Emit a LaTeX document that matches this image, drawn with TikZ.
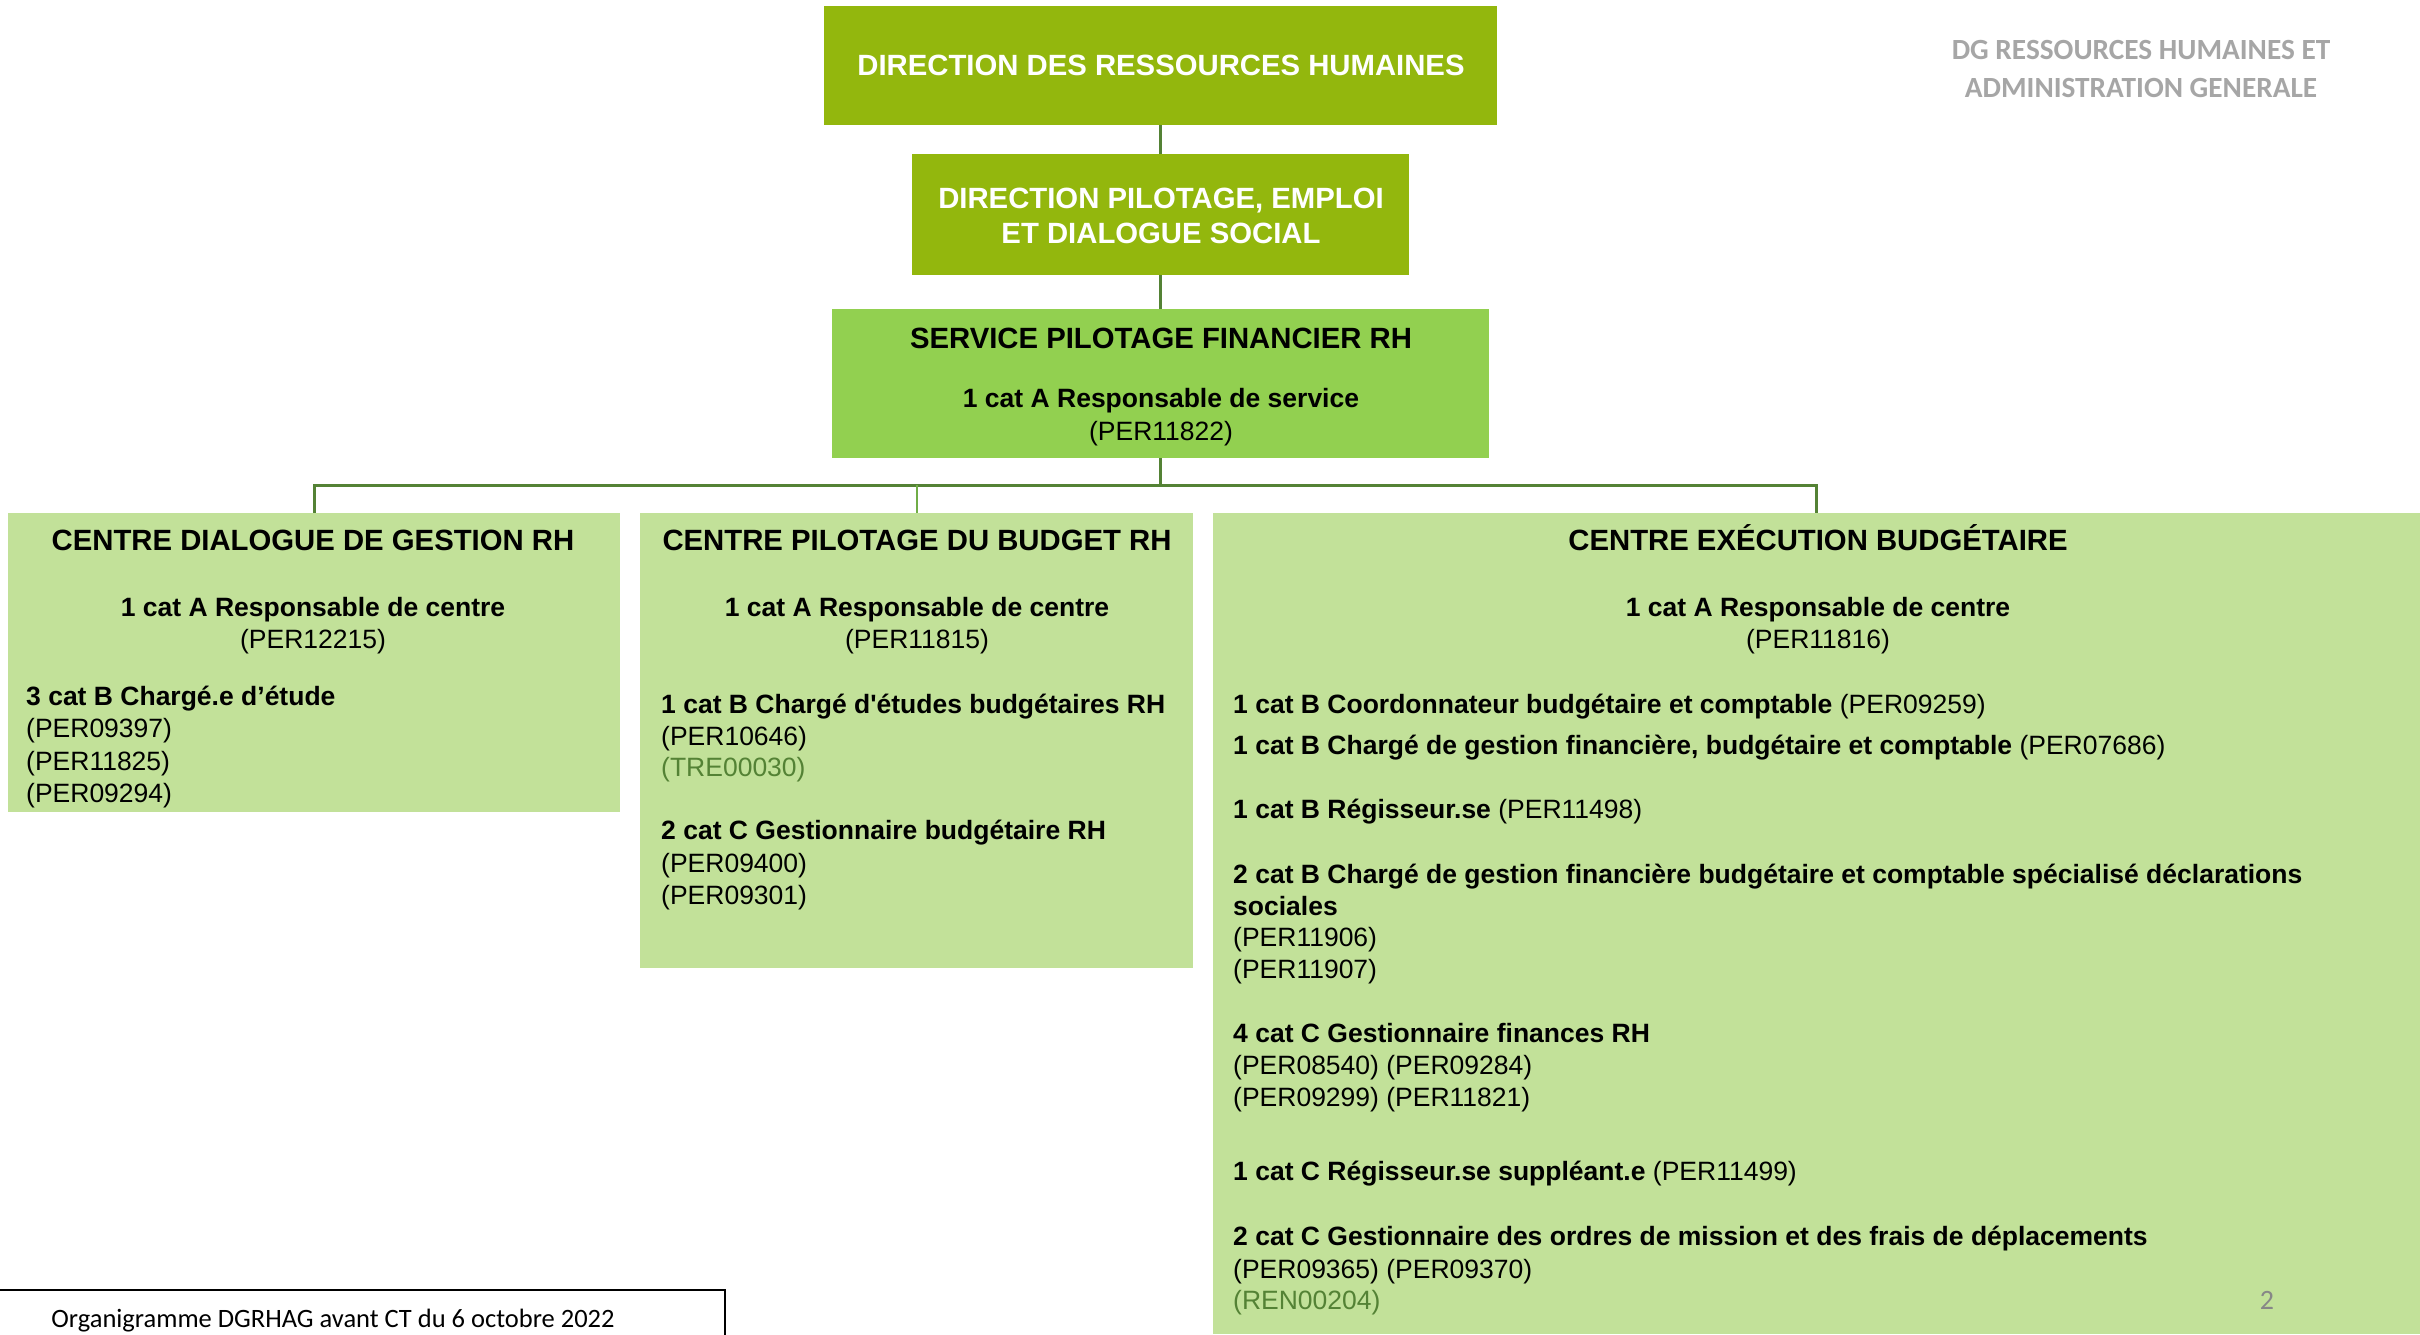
\documentclass[tikz,border=0pt]{standalone}
\usepackage{fontspec}
\setmainfont{Liberation Sans}[Ligatures=TeXOff]
\newfontfamily\calfont{Carlito}
\definecolor{dgreen}{RGB}{147,183,13}
\definecolor{lgreen}{RGB}{146,208,80}
\definecolor{pgreen}{RGB}{194,225,153}
\definecolor{lineg}{RGB}{84,130,53}
\definecolor{lineg2}{RGB}{112,173,71}
\definecolor{idg}{RGB}{84,130,53}
\definecolor{greyt}{RGB}{166,166,166}
\definecolor{greyn}{RGB}{135,135,135}
\begin{document}
\begin{tikzpicture}[x=1pt,y=1pt,
  boxs/.style={inner sep=0pt,outer sep=0pt,anchor=north west},
  hd/.style={inner sep=0pt,anchor=base,font=\fontsize{29.3}{35}\selectfont\bfseries},
  bc/.style={inner sep=0pt,anchor=base,font=\fontsize{26.5}{32}\selectfont},
  bl/.style={inner sep=0pt,anchor=base west,font=\fontsize{26.5}{32}\selectfont},
  conn/.style={draw=lineg,line width=3pt}]
\useasboundingbox (0,0) rectangle (2420,-1334);
% boxes
\node[boxs,fill=dgreen,minimum width=673pt,minimum height=119pt] (drh) at (824,-6) {};
\node[boxs,fill=dgreen,minimum width=497pt,minimum height=121pt] (dpe) at (912,-154) {};
\node[boxs,fill=lgreen,minimum width=657pt,minimum height=149pt] (spf) at (832,-309) {};
\node[boxs,fill=pgreen,minimum width=612pt,minimum height=299pt] (c1) at (8,-513) {};
\node[boxs,fill=pgreen,minimum width=553pt,minimum height=455pt] (c2) at (640,-513) {};
\node[boxs,fill=pgreen,minimum width=1207pt,minimum height=821pt] (c3) at (1213,-513) {};
\coordinate (bar) at (0,-485);
% connectors
\draw[conn] (drh.south) -- (dpe.north);
\draw[conn] (dpe.south) -- (spf.north);
\draw[conn] (spf.south) -- (spf.south |- bar) -| (c1.north);
\draw[conn] (spf.south |- bar) -| (c3.north);
\draw[draw=lineg2,line width=2pt] (c2.north) -- (c2.north |- bar);
% top texts
\node[hd,text=white] (t1) at (1161,-75.5) {DIRECTION DES RESSOURCES HUMAINES};
\node[hd,text=white] (t2) at (1161,-208.5) {DIRECTION PILOTAGE, EMPLOI};
\node[hd,text=white] (t3) at (1161,-243.5) {ET DIALOGUE SOCIAL};
\node[hd] (s1) at (1161,-348.5) {SERVICE PILOTAGE FINANCIER RH};
\node[bc] (s2) at (1161,-407.5) {\bfseries 1 cat A Responsable de service};
\node[bc] (s3) at (1161,-440.5) {(PER11822)};
% centre 1
\node[hd] (a0) at (313,-550.5) {CENTRE DIALOGUE DE GESTION RH};
\node[bc] (a1) at (313,-616.5) {\bfseries 1 cat A Responsable de centre};
\node[bc] (a2) at (313,-648.5) {(PER12215)};
\node[bl] (a3) at (26,-705.5) {\bfseries 3 cat B Chargé.e d’étude};
\node[bl] (a4) at (26,-737.5) {(PER09397)};
\node[bl] (a5) at (26,-770.5) {(PER11825)};
\node[bl] (a6) at (26,-802.5) {(PER09294)};
% centre 2
\node[hd] (b0) at (917,-550.5) {CENTRE PILOTAGE DU BUDGET RH};
\node[bc] (b1) at (917,-616.5) {\bfseries 1 cat A Responsable de centre};
\node[bc] (b2) at (917,-648.5) {(PER11815)};
\node[bl] (b3) at (661,-713.5) {\bfseries 1 cat B Chargé d'études budgétaires RH};
\node[bl] (b4) at (661,-745.5) {(PER10646)};
\node[bl,text=idg] (b5) at (661,-776.5) {(TRE00030)};
\node[bl] (b6) at (661,-839.5) {\bfseries 2 cat C Gestionnaire budgétaire RH};
\node[bl] (b7) at (661,-872.5) {(PER09400)};
\node[bl] (b8) at (661,-904.5) {(PER09301)};
% centre 3
\node[hd] (e0) at (1818,-550.5) {CENTRE EXÉCUTION BUDGÉTAIRE};
\node[bc] (e1) at (1818,-616.5) {\bfseries 1 cat A Responsable de centre};
\node[bc] (e2) at (1818,-648.5) {(PER11816)};
\node[bl] (e3) at (1233,-713.5) {\textbf{1 cat B Coordonnateur budgétaire et comptable} (PER09259)};
\node[bl] (e4) at (1233,-754.5) {\textbf{1 cat B Chargé de gestion financière, budgétaire et comptable} (PER07686)};
\node[bl] (e5) at (1233,-818.5) {\textbf{1 cat B Régisseur.se} (PER11498)};
\node[bl] (e6) at (1233,-883.5) {\bfseries 2 cat B Chargé de gestion financière budgétaire et comptable spécialisé déclarations};
\node[bl] (e7) at (1233,-915.5) {\bfseries sociales};
\node[bl] (e8) at (1233,-946.5) {(PER11906)};
\node[bl] (e9) at (1233,-978.5) {(PER11907)};
\node[bl] (e10) at (1233,-1042.5) {\bfseries 4 cat C Gestionnaire finances RH};
\node[bl] (e11) at (1233,-1074.5) {(PER08540) (PER09284)};
\node[bl] (e12) at (1233,-1106.5) {(PER09299) (PER11821)};
\node[bl] (e13) at (1233,-1180.5) {\textbf{1 cat C Régisseur.se suppléant.e} (PER11499)};
\node[bl] (e14) at (1233,-1245.5) {\bfseries 2 cat C Gestionnaire des ordres de mission et des frais de déplacements};
\node[bl] (e15) at (1233,-1278.5) {(PER09365) (PER09370)};
\node[bl,text=idg] (e16) at (1233,-1309.5) {(REN00204)};
% side texts
\node[inner sep=0pt,anchor=base,text=greyt,font=\calfont\fontsize{29.3}{35}\selectfont\bfseries] (dg1) at (2141,-59) {DG RESSOURCES HUMAINES ET};
\node[inner sep=0pt,anchor=base,text=greyt,font=\calfont\fontsize{29.3}{35}\selectfont\bfseries] (dg2) at (2141,-97.5) {ADMINISTRATION GENERALE};
\node[inner sep=0pt,anchor=base,text=greyn,font=\calfont\fontsize{28}{32}\selectfont] (pg) at (2267,-1309) {2};
\node[boxs,draw=black,line width=2pt,minimum width=727pt,minimum height=60pt] (foot) at (-2,-1290) {};
\node[inner sep=0pt,anchor=base,font=\calfont\fontsize{26.5}{32}\selectfont] (ft) at (333,-1327) {Organigramme DGRHAG avant CT du 6 octobre 2022};
\end{tikzpicture}
\end{document}
